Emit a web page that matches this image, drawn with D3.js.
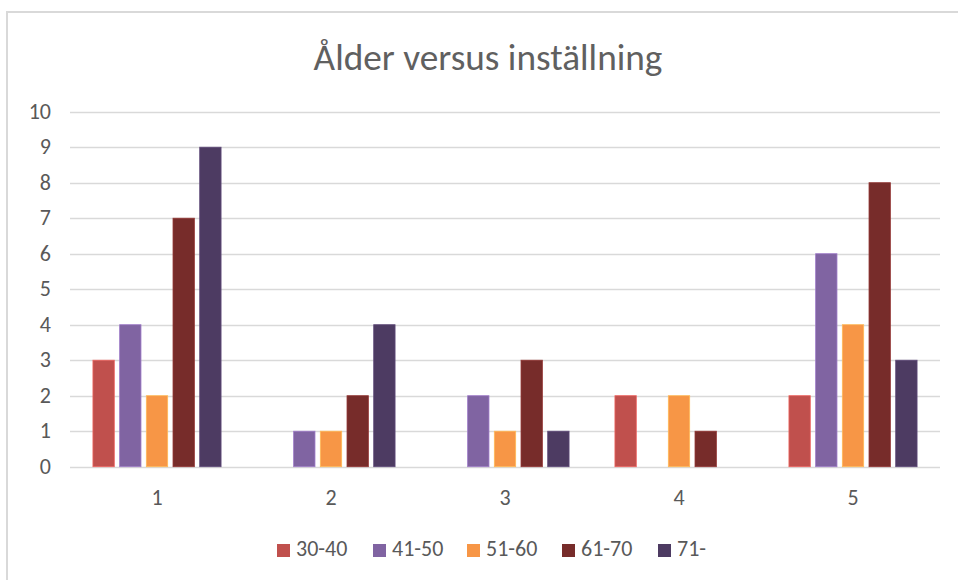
<!DOCTYPE html>
<html>
<head>
<meta charset="utf-8">
<script src="https://cdn.jsdelivr.net/npm/d3@7"></script>
<style>
  body { margin: 0; background: #fff; }
  text { font-family: Calibri, Carlito, "Open Sans", sans-serif; fill: #595959; }
</style>
</head>
<body>
<div id="chart"></div>
<script>
// chart values
const groups = ["1", "2", "3", "4", "5"];
const series = ["30-40", "41-50", "51-60", "61-70", "71-"];
const values = [
  [3, 4, 2, 7, 9],   // 1
  [0, 1, 1, 2, 4],   // 2
  [0, 2, 1, 3, 1],   // 3
  [2, 0, 2, 1, 0],   // 4
  [2, 6, 4, 8, 3]    // 5
];
const yTicks = [0, 1, 2, 3, 4, 5, 6, 7, 8, 9, 10];
const colors = ["#C0504D", "#8064A2", "#F79646", "#772C2A", "#4D3B62"];
const title = "Ålder versus inställning";

const W = 958, H = 580;
const plot = { left: 70, right: 940, top: 111.7, bottom: 466.7 };

let svg = d3.select("#chart").append("svg")
    .attr("width", W)
    .attr("height", H);

// chart area border
svg.append("rect")
    .attr("x", 7).attr("y", 12)
    .attr("width", W + 10).attr("height", H + 10)
    .style("fill", "#fff")
    .style("stroke", "#D9D9D9")
    .style("stroke-width", 2);

let x0 = d3.scaleBand()
    .domain(groups)
    .range([plot.left, plot.right])
    .paddingInner(0.233)
    .paddingOuter(0.1165);

let x1 = d3.scaleBand()
    .domain(series)
    .range([0, x0.bandwidth()])
    .paddingInner(0.2)
    .paddingOuter(0.1);

let y = d3.scaleLinear()
    .domain([0, 10])
    .range([plot.bottom, plot.top]);

// gridlines
svg.append("g").selectAll("line")
    .data(yTicks)
    .enter().append("line")
    .attr("x1", plot.left)
    .attr("x2", plot.right)
    .attr("y1", (d) => Math.round(y(d)) + 0.5)
    .attr("y2", (d) => Math.round(y(d)) + 0.5)
    .style("stroke", "#D9D9D9")
    .style("stroke-width", 1.3);

// y axis labels
let yAxis = d3.axisLeft(y).tickValues(yTicks).tickSize(0).tickPadding(0);
let ya = svg.append("g")
    .attr("transform", "translate(51,0)")
    .call(yAxis);
ya.select(".domain").remove();
ya.selectAll("text")
    .attr("dy", "0.3em")
    .style("font-size", "22px")
    .style("fill", "#595959")
    .style("font-family", null);

// x axis labels
let xAxis = d3.axisBottom(x0).tickSize(0).tickPadding(0);
let xa = svg.append("g")
    .attr("transform", "translate(0,505)")
    .call(xAxis);
xa.select(".domain").remove();
xa.selectAll("text")
    .attr("dy", 0)
    .style("font-size", "22px")
    .style("fill", "#595959")
    .style("font-family", null);

// bars
let grp = svg.selectAll(".grp")
    .data(values)
    .enter().append("g")
    .attr("class", "grp")
    .attr("transform", (d, i) => "translate(" + x0(groups[i]) + ",0)");

grp.selectAll("rect")
    .data((d) => d.map((v, j) => ({ key: series[j], value: v, color: colors[j] })))
    .enter().append("rect")
    .filter((d) => d.value > 0)
    .attr("x", (d) => x1(d.key))
    .attr("y", (d) => y(d.value))
    .attr("width", x1.bandwidth())
    .attr("height", (d) => y(0) - y(d.value))
    .style("fill", (d) => d.color)
    .style("stroke", (d) => d3.color(d.color).brighter(0.6))
    .style("stroke-width", 0.8);

// title
let t = svg.append("text")
    .attr("x", 488)
    .attr("y", 70)
    .attr("text-anchor", "middle")
    .style("font-size", "30px")
    .style("fill", "#606060")
    .text(title);
// fit to the title width seen in the picture
let tw = t.node().getComputedTextLength();
t.style("font-size", (30 * 349 / tw) + "px");

// legend
let legendX = [277, 373, 467, 562, 658];
let leg = svg.selectAll(".leg")
    .data(series)
    .enter().append("g")
    .attr("class", "leg")
    .attr("transform", (d, i) => "translate(" + legendX[i] + ",544)");

leg.append("rect")
    .attr("width", 13)
    .attr("height", 13)
    .style("fill", (d, i) => colors[i]);

leg.append("text")
    .attr("x", 19)
    .attr("y", 12)
    .style("font-size", "22px")
    .text((d) => d);
</script>
</body>
</html>
